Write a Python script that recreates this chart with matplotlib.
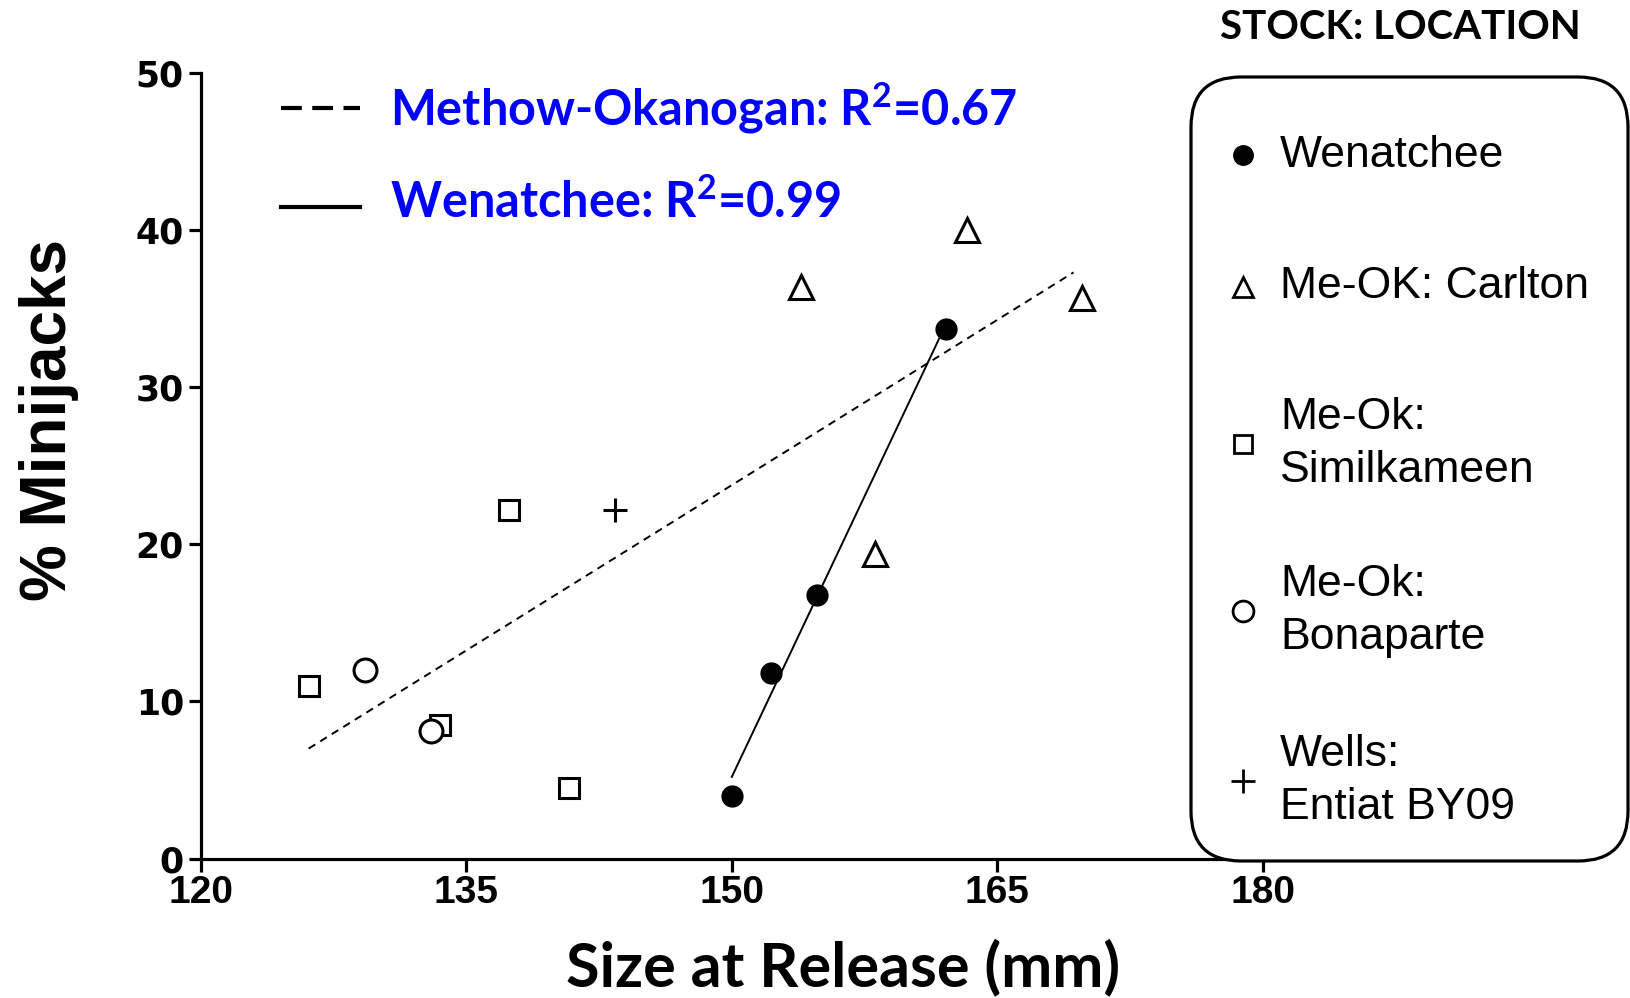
import numpy as np
import matplotlib
matplotlib.use("Agg")
import matplotlib.pyplot as plt
from matplotlib.patches import FancyBboxPatch

plt.rcParams["mathtext.fontset"] = "custom"
plt.rcParams["mathtext.rm"] = "Lato:bold"
plt.rcParams["mathtext.bf"] = "Lato:bold"
plt.rcParams["mathtext.it"] = "Lato:bold"

# ---------------- data ----------------
wen_x = [150.0, 152.2, 154.8, 162.1]
wen_y = [4.0, 11.8, 16.8, 33.7]
carl_x = [153.9, 163.3, 169.8, 158.1]
carl_y = [36.4, 40.0, 35.7, 19.4]
simi_x = [137.4, 126.1, 133.5, 140.8]
simi_y = [22.2, 11.0, 8.5, 4.5]
bona_x = [129.3, 133.0]
bona_y = [12.0, 8.1]
wells_x = [143.4]
wells_y = [22.2]

# regression lines (end points)
mo_fit_x = [126.1, 169.3]
mo_fit_y = [7.0, 37.3]
wen_fit_x = [150.0, 161.8]
wen_fit_y = [5.2, 33.3]

fit_labels = [r"Methow-Okanogan: R$^{2}$=0.67", r"Wenatchee: R$^{2}$=0.99"]
series_labels = ["Wenatchee", "Me-OK: Carlton", "Me-Ok:\nSimilkameen",
                 "Me-Ok:\nBonaparte", "Wells:\nEntiat BY09"]
x_ticks = [120, 135, 150, 165, 180]
y_ticks = [0, 10, 20, 30, 40, 50]

# ---------------- figure ----------------
W, H = 1630, 998
fig = plt.figure(figsize=(W / 100, H / 100), dpi=100)
ax = fig.add_axes([200.6 / W, 1 - 858.6 / H, (1263 - 200.6) / W, (858.6 - 72.8) / H])

ax.set_xlim(120, 180)
ax.set_ylim(0, 50)
for s in ["top", "right"]:
    ax.spines[s].set_visible(False)
for s in ["left", "bottom"]:
    ax.spines[s].set_linewidth(2.3)
ax.set_xticks(x_ticks)
ax.set_yticks(y_ticks)
ax.tick_params(axis="both", direction="out", length=9, width=2.3, pad=3)
for lab in ax.get_xticklabels():
    lab.set_fontfamily("Liberation Sans")
    lab.set_fontweight("bold")
    lab.set_fontsize(28)
for lab in ax.get_yticklabels():
    lab.set_fontfamily("DejaVu Sans")
    lab.set_fontweight("bold")
    lab.set_fontsize(25)

# regression lines
ax.plot(mo_fit_x, mo_fit_y, color="black", lw=1.4, linestyle=(0, (4, 3)), zorder=2)
ax.plot(wen_fit_x, wen_fit_y, color="black", lw=1.4, zorder=2)

# points
ax.plot(wen_x, wen_y, "o", color="black", ms=15, zorder=4, clip_on=False)
ax.plot(carl_x, carl_y, "^", mfc="white", mec="black", mew=2.2, ms=17, zorder=4, clip_on=False)
ax.plot(simi_x, simi_y, "s", mfc="white", mec="black", mew=2.2, ms=14.5, zorder=4, clip_on=False)
ax.plot(bona_x, bona_y, "o", mfc="white", mec="black", mew=2.2, ms=16.5, zorder=5, clip_on=False)
ax.plot(wells_x, wells_y, "+", color="black", mew=2.2, ms=17, zorder=4, clip_on=False)

# ---------------- overlay (pixel coordinates) ----------------
ov = fig.add_axes([0, 0, 1, 1])
ov.set_xlim(0, W)
ov.set_ylim(H, 0)
ov.axis("off")
ov.patch.set_alpha(0)

# axis titles
ov.text(49, 420, "% Minijacks", fontfamily="Liberation Sans", fontweight="bold",
        fontsize=46, rotation=90, ha="center", va="center")
ov.text(843, 967, "Size at Release (mm)", fontfamily="Lato", fontweight="bold",
        fontsize=44, ha="center", va="center")

# fit legend at top-left
ov.plot([281, 360], [108, 108], color="black", lw=3, linestyle=(0, (5, 2.5)))
ov.plot([281, 360], [207, 207], color="black", lw=3)
ov.text(390, 108, fit_labels[0], color="#0000ff", fontfamily="Lato",
        fontweight="bold", fontsize=35, va="center", ha="left")
ov.text(390, 202, fit_labels[1], color="#0000ff", fontfamily="Lato",
        fontweight="bold", fontsize=35, va="center", ha="left")

# stock legend
ov.text(1400, 27, "STOCK: LOCATION", fontfamily="Lato", fontweight="bold",
        fontsize=29, ha="center", va="center", color="black")
box = FancyBboxPatch((1191 + 50, 77 + 50), 437 - 100, 784 - 100,
                     boxstyle="round,pad=50", fc="white", ec="black", lw=2.3, zorder=3)
ov.add_patch(box)

leg_y = [155, 287, 444, 611, 781]
leg_style = [
    dict(marker="o", color="black", ms=14),
    dict(marker="^", mfc="white", mec="black", mew=2.0, ms=15),
    dict(marker="s", mfc="white", mec="black", mew=2.0, ms=13),
    dict(marker="o", mfc="white", mec="black", mew=2.0, ms=15),
    dict(marker="+", color="black", mew=2.0, ms=17),
]
for yy, lab, st in zip(leg_y, series_labels, leg_style):
    ov.plot([1243], [yy], linestyle="none", zorder=4, **st)
    ov.text(1280, yy, lab, fontfamily="Liberation Sans", fontsize=32,
            ha="left", va="center", linespacing=1.35, zorder=4)

fig.savefig("out.png", dpi=100)
